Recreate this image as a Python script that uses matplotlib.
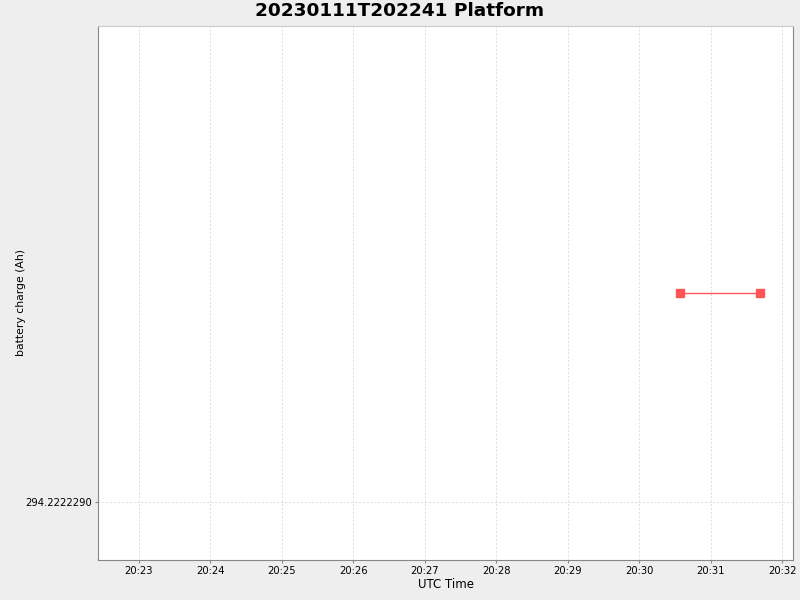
import matplotlib
matplotlib.use("Agg")
from matplotlib import pyplot as plt
import matplotlib.dates as mdates
from matplotlib.ticker import FixedLocator, FuncFormatter
from datetime import datetime

# data
times = [datetime(2023, 1, 11, 20, 30, 34), datetime(2023, 1, 11, 20, 31, 41)]
charge = [294.2222300, 294.2222300]
ytick_vals = [294.2222290]

x_min = datetime(2023, 1, 11, 20, 22, 26)
x_max = datetime(2023, 1, 11, 20, 32, 9)
half_span = 1.2775e-6

fig = plt.figure(figsize=(8, 6), dpi=100, facecolor="#eeeeee")
ax = fig.add_axes([0.1225, 0.0667, 0.86875, 0.89])
ax.set_facecolor("white")

ax.plot(times, charge, color="#ff5555", lw=1.0, marker="s", markersize=6,
        markerfacecolor="#ff5555", markeredgecolor="#ff5555")

ax.set_xlim(x_min, x_max)
ax.set_ylim(charge[0] - half_span, charge[0] + half_span)
ax.xaxis.set_major_locator(mdates.MinuteLocator())
ax.xaxis.set_major_formatter(mdates.DateFormatter("%H:%M"))
ax.yaxis.set_major_locator(FixedLocator(ytick_vals))
ax.yaxis.set_major_formatter(FuncFormatter(lambda v, p: "%.7f" % v))

ax.grid(True, color="#dddddd", linestyle=(0, (2, 2)), lw=0.7)
ax.tick_params(labelsize=7.2, length=2, pad=2, color="#888888")
for s in ax.spines.values():
    s.set_color("#888888")
ax.spines["top"].set_color("#cccccc")

ax.set_xlabel("UTC Time", fontsize=8.5, labelpad=2)
ax.set_ylabel("battery charge (Ah)", fontsize=7.8)
ax.yaxis.set_label_coords(-0.104, 0.483)
fig.suptitle("20230111T202241 Platform", fontsize=13.3, fontweight="bold", y=0.997)

fig.savefig("out.png", dpi=100, facecolor=fig.get_facecolor())
